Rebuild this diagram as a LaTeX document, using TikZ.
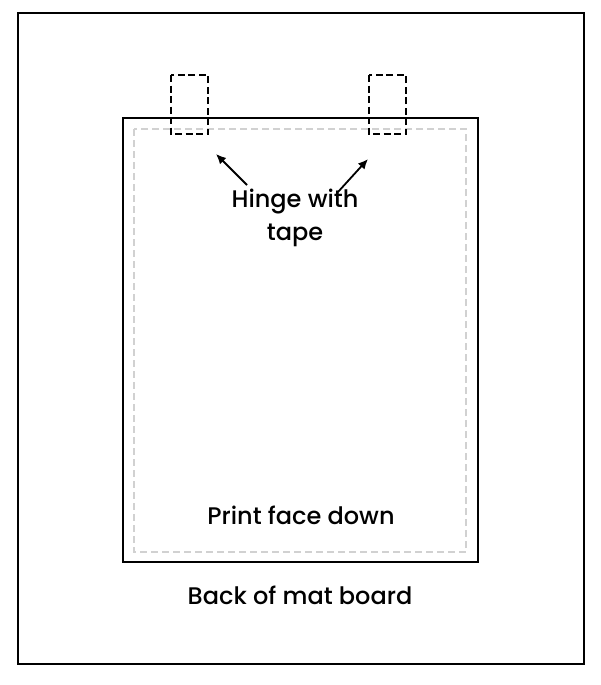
\documentclass[tikz,border=0pt]{standalone}
\usepackage{fontspec}
\setmainfont{Poppins}[UprightFont=* Medium]
\usetikzlibrary{arrows.meta}
\begin{document}
\begin{tikzpicture}[x=1pt,y=-1pt]

    % Fix the canvas to the size of the reference
    \useasboundingbox (0,0) rectangle (600,685);

    % Define the corners of the mat board
    \coordinate (M1) at (18,13);      % Top left corner
    \coordinate (M2) at (584,664);    % Bottom right corner

    % Define the corners of the print
    \coordinate (P1) at (123,118);    % Top left corner
    \coordinate (P2) at (478,562);    % Bottom right corner

    % Define the corners of the window opening
    \coordinate (W1) at (134,129);    % Top left corner
    \coordinate (W2) at (466,552);    % Bottom right corner

    % Define the hinge tapes
    \coordinate (HL1) at (171,75);    % Left hinge, top left
    \coordinate (HL2) at (208,134);   % Left hinge, bottom right
    \coordinate (HR1) at (369,75);    % Right hinge, top left
    \coordinate (HR2) at (406,134);   % Right hinge, bottom right

    % Draw the mat board
    \draw[line width=1.7pt] (M1) rectangle (M2);

    % Draw the print
    \draw[line width=2.2pt] (P1) rectangle (P2);

    % Draw the window opening
    \draw[black!18, line width=1.1pt, dash pattern=on 7pt off 4pt] (W1) rectangle (W2);

    % Draw the hinges
    \draw[line width=1.8pt, dash pattern=on 7pt off 3.5pt] (HL1) rectangle (HL2);
    \draw[line width=1.8pt, dash pattern=on 7pt off 3.5pt] (HR1) rectangle (HR2);

    % Label the hinges
    \node[align=center, font=\fontsize{24}{33}\selectfont] (hinge) at (295,218) {Hinge with\\tape};

    % Arrow ends near the hinges
    \coordinate (AL) at (216,154);
    \coordinate (AR) at (368,159);
    \coordinate (SL) at (247,185);
    \coordinate (SR) at (338,192);

    % Draw the arrows to the hinges
    \draw[line width=1.8pt, -{Latex[length=10pt,width=9pt]}] (SL) -- (AL);
    \draw[line width=1.8pt, -{Latex[length=10pt,width=9pt]}] (SR) -- (AR);

    % Label the print
    \node[font=\fontsize{24}{30}\selectfont] (print) at (301,515) {Print face down};

    % Label the mat board
    \node[font=\fontsize{24}{30}\selectfont] (board) at (300,595) {Back of mat board};

\end{tikzpicture}
\end{document}
